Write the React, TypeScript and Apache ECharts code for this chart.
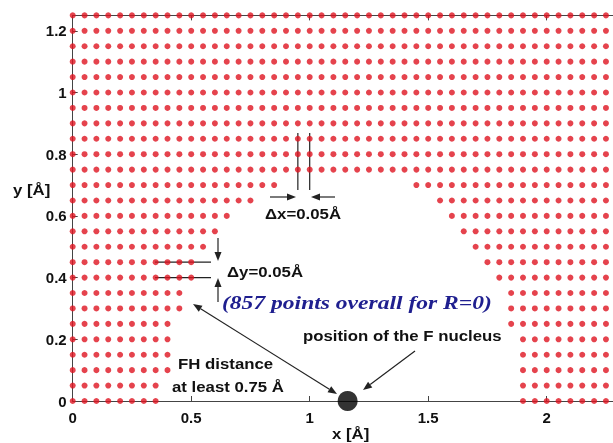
import React, { useEffect, useRef } from "react";
import * as echarts from "echarts";

// Grid positions (Å)
const gridX = [0, 0.05, 0.1, 0.15, 0.2, 0.25, 0.3, 0.35, 0.4, 0.45, 0.5, 0.55, 0.6, 0.65, 0.7, 0.75, 0.8, 0.85, 0.9, 0.95, 1, 1.05, 1.1, 1.15, 1.2, 1.25, 1.3, 1.35, 1.4, 1.45, 1.5, 1.55, 1.6, 1.65, 1.7, 1.75, 1.8, 1.85, 1.9, 1.95, 2, 2.05, 2.1, 2.15, 2.2, 2.25, 2.3];
const gridY = [0, 0.05, 0.1, 0.15, 0.2, 0.25, 0.3, 0.35, 0.4, 0.45, 0.5, 0.55, 0.6, 0.65, 0.7, 0.75, 0.8, 0.85, 0.9, 0.95, 1, 1.05, 1.1, 1.15, 1.2, 1.25];
// Rows with a gap around the F nucleus: last point on the left, first point on the right
const cutRowY = [0, 0.05, 0.1, 0.15, 0.2, 0.25, 0.3, 0.35, 0.4, 0.45, 0.5, 0.55, 0.6, 0.65, 0.7];
const leftEnd = [0.35, 0.35, 0.4, 0.4, 0.4, 0.4, 0.45, 0.45, 0.5, 0.5, 0.55, 0.6, 0.65, 0.75, 0.85];
const rightStart = [1.9, 1.9, 1.9, 1.9, 1.9, 1.85, 1.85, 1.85, 1.8, 1.75, 1.7, 1.65, 1.6, 1.55, 1.45];
const nucleus = [[1.16, 0]];
const xTicks = ["0", "0.5", "1", "1.5", "2"];
const yTicks = ["0", "0.2", "0.4", "0.6", "0.8", "1", "1.2"];

// layout
const L = 72.7, B = 401, SX = 237, SY = 308.5;
const X_MAX = 2.28, Y_MAX = 1.25;

function buildPoints() {
  const pts: number[][] = [];
  gridY.forEach((y) => {
    const idx = cutRowY.findIndex((r) => Math.abs(r - y) < 1e-6);
    gridX.forEach((x) => {
      if (idx < 0 || x <= leftEnd[idx] + 1e-6 || x >= rightStart[idx] - 1e-6) pts.push([x, y]);
    });
  });
  return pts;
}

const INK = "#222";

function arrow(x1: number, y1: number, x2: number, y2: number, head = 9, hw = 3.5, both = false) {
  const dx = x2 - x1, dy = y2 - y1;
  const len = Math.hypot(dx, dy);
  const ux = dx / len, uy = dy / len;
  const nx = -uy, ny = ux;
  const els: any[] = [];
  const bx = x2 - ux * head, by = y2 - uy * head;
  let sx = x1, sy = y1;
  if (both) {
    sx = x1 + ux * head; sy = y1 + uy * head;
    els.push({
      type: "polygon",
      shape: { points: [[x1, y1], [sx + nx * hw, sy + ny * hw], [sx - nx * hw, sy - ny * hw]] },
      style: { fill: INK },
    });
  }
  els.push({ type: "line", shape: { x1: sx, y1: sy, x2: bx, y2: by }, style: { stroke: INK, lineWidth: 1.2 } });
  els.push({
    type: "polygon",
    shape: { points: [[x2, y2], [bx + nx * hw, by + ny * hw], [bx - nx * hw, by - ny * hw]] },
    style: { fill: INK },
  });
  return els;
}

function txt(text: string, x: number, y: number, font: string, fill = "#111", scaleX = 1.2, align = "left") {
  return {
    type: "text",
    x,
    y,
    scaleX,
    style: { text, font, fill, textAlign: align, textVerticalAlign: "middle" },
    z: 10,
  };
}

function vline(x: number, y1: number, y2: number) {
  return { type: "line", shape: { x1: x, y1, x2: x, y2 }, style: { stroke: INK, lineWidth: 1.2 } };
}
function hline(y: number, x1: number, x2: number) {
  return { type: "line", shape: { x1, y1: y, x2, y2: y }, style: { stroke: INK, lineWidth: 1.2 } };
}

export default function App() {
  const ref = useRef<HTMLDivElement>(null);
  useEffect(() => {
    if (!ref.current) return;
    const chart = echarts.init(ref.current, undefined, { renderer: "svg" });
    const px = (x: number) => L + x * SX;
    const py = (y: number) => B - y * SY;
    const sansB = "bold 14px 'Liberation Sans', Arial, sans-serif";
    const graphic: any[] = [
      // Δx markers
      vline(px(0.95), 133, 190),
      vline(px(1.0), 133, 190),
      ...arrow(270, 197, 296, 197),
      ...arrow(335, 197, 311, 197),
      txt("Δx=0.05Å", 265, 214, sansB),
      // Δy markers
      hline(py(0.45), 155, 211),
      hline(py(0.4), 155, 211),
      ...arrow(218, 238, 218, 261),
      ...arrow(218, 302, 218, 278),
      txt("Δy=0.05Å", 227, 272, sansB),
      txt("(857 points overall for R=0)", 222, 303, "italic bold 19px 'Liberation Serif', 'Times New Roman', serif", "#1f1f8f", 1.24),
      txt("position of the F nucleus", 303, 336, sansB),
      ...arrow(415, 351, 363, 390),
      txt("FH distance", 178, 364, sansB),
      txt("at least 0.75 Å", 172, 387, sansB),
      ...arrow(193, 304, 337, 394, 9, 3.5, true),
      txt("x [Å]", 332, 434, sansB),
      txt("y [Å]", 13, 190, sansB),
    ];
    const labelStyle = { fontFamily: "'Liberation Sans', Arial, sans-serif", fontWeight: "bold" as const, fontSize: 15, color: "#111" };
    chart.setOption({
      animation: false,
      grid: { left: L, top: B - Y_MAX * SY, width: X_MAX * SX, height: Y_MAX * SY, outerBoundsMode: "none" },
      xAxis: [
        {
          type: "value", min: 0, max: X_MAX, interval: 0.5, position: "bottom",
          axisLine: { lineStyle: { color: "#444", width: 1 } },
          axisTick: { inside: true, length: 5, lineStyle: { color: "#444" } },
          axisLabel: { ...labelStyle, margin: 9, showMaxLabel: false, formatter: (v: number) => { const s = String(v); return xTicks.includes(s) ? s : ""; } },
          splitLine: { show: false },
        },
        {
          type: "value", min: 0, max: X_MAX, interval: 0.5, position: "top",
          axisLine: { lineStyle: { color: "#444", width: 1 } },
          axisTick: { inside: true, length: 5, lineStyle: { color: "#444" } },
          axisLabel: { show: false },
          splitLine: { show: false },
        },
      ],
      yAxis: {
        type: "value", min: 0, max: Y_MAX, interval: 0.2,
        axisLine: { lineStyle: { color: "#444", width: 1 } },
        axisTick: { inside: true, length: 5, lineStyle: { color: "#444" } },
        axisLabel: { ...labelStyle, margin: 6, showMaxLabel: false, formatter: (v: number) => { const s = String(Math.round(v * 10) / 10); return yTicks.includes(s) ? s : ""; } },
        splitLine: { show: false },
      },
      series: [
        {
          type: "scatter",
          data: buildPoints(),
          symbol: "circle",
          symbolSize: 6,
          itemStyle: { color: "#de1420" },
          clip: false,
          z: 3,
        },
        {
          type: "scatter",
          data: nucleus,
          symbolSize: 20,
          itemStyle: { color: "#000" },
          clip: false,
          z: 4,
        },
      ],
      graphic,
    });
    return () => chart.dispose();
  }, []);
  return <div ref={ref} style={{ position: "fixed", left: 0, top: 0, width: 613, height: 443 }} />;
}
